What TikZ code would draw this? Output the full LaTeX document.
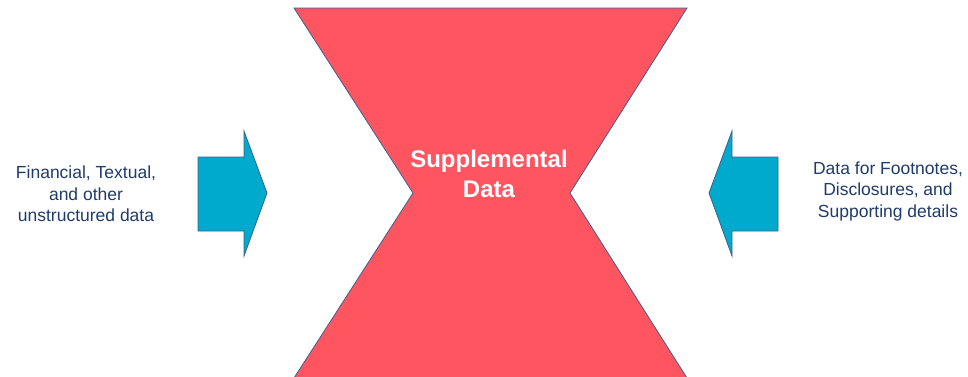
\documentclass[tikz,border=0pt]{standalone}
\usepackage{fontspec}
\setmainfont{Liberation Sans}
\usetikzlibrary{positioning}
\definecolor{hgred}{HTML}{FF5561}
\definecolor{arrowblue}{HTML}{00AACC}
\definecolor{edgeblue}{HTML}{3F5F8F}
\definecolor{textnavy}{HTML}{1F3B6B}

\begin{document}
\begin{tikzpicture}[x=1pt,y=-1pt,
    blockarrow/.style={fill=arrowblue, draw=edgeblue, line width=0.8pt, line join=miter},
    sidetext/.style={text=textnavy, align=center, font=\fontsize{17.5}{21.5}\selectfont}]
    \useasboundingbox (0,0) rectangle (968,376);
    \clip (0,0) rectangle (968,376);

    % hourglass
    \draw[fill=hgred, draw=edgeblue, line width=0.8pt] (294,8) -- (687,8) -- (570,193) -- (687,378) -- (294,378) -- (413,193) -- cycle;
    \node[text=white, font=\bfseries\fontsize{24}{30}\selectfont, align=center] (supp) at (489,174) {Supplemental\\Data};

    % input arrows
    \draw[blockarrow] (198,157) -- (244,157) -- (244,131) -- (267,193) -- (244,256) -- (244,231) -- (198,231) -- cycle;
    \draw[blockarrow] (778,157) -- (732,157) -- (732,131) -- (709,193) -- (732,256) -- (732,231) -- (778,231) -- cycle;

    \node[sidetext] (leftin) at (86,194) {Financial, Textual,\\and other\\unstructured data};
    \node[sidetext] (rightin) at (888,191) {Data for Footnotes,\\Disclosures, and\\Supporting details};
\end{tikzpicture}
\end{document}
